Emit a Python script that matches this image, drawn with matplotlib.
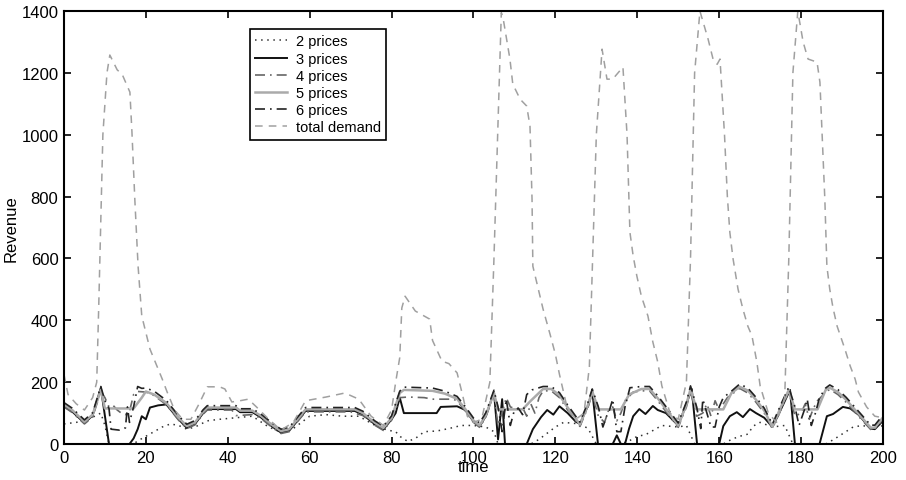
import matplotlib
matplotlib.use("Agg")
import matplotlib.pyplot as plt

# values (time, revenue)
t2 = [0, 3, 6, 9, 10, 11, 17, 18, 20, 22, 24, 26, 28, 30, 32, 35, 38, 42, 46, 50, 53, 56, 60, 64, 68, 72, 76, 79,
      81, 82, 84, 86, 88, 91, 94, 97, 100, 103, 105, 106, 114, 116, 118, 120, 122, 126, 128, 130, 136, 138, 140,
      142, 144, 146, 150, 152, 154, 161, 163, 165, 167, 168.3, 170, 173, 176, 178, 186, 188, 190, 192.7, 195, 198, 200]
rev2 = [65, 70, 80, 100, 60, 0, 0, 10, 25, 40, 55, 65, 60, 48, 55, 75, 80, 85, 90, 55, 38, 50, 90, 95, 90, 90, 60, 45,
        40, 25, 8, 20, 40, 42, 50, 60, 60, 55, 40, 0, 0, 15, 35, 55, 70, 65, 50, 0, 0, 10, 25,
        30, 45, 60, 55, 60, 0, 0, 15, 25, 32, 58, 70, 55, 60, 0, 0, 15, 32, 55, 60, 50, 60]

t3 = [0, 2, 5, 7, 9, 11, 16, 17, 18, 19, 20, 21, 23, 25, 28, 30, 32, 34, 35, 42, 43, 46, 48, 51, 53, 55, 57, 59, 71,
      73, 76, 78, 80, 81, 82, 83, 91, 92, 96, 98, 100, 101.5, 103, 105, 106, 107, 107.7, 113, 114.5, 116.5, 118,
      119.5, 121, 123, 125, 126, 128, 129, 130.4, 134, 135, 136, 137, 138, 139, 140.5, 142, 143.8, 145, 147, 150,
      152, 153.3, 154.6, 160, 161, 162.6, 164.3, 165.8, 167.5, 169, 171, 173, 175, 177.3, 178.5, 184.5, 185.5,
      186.3, 187.8, 190.2, 192, 194, 197, 198, 200]
rev3 = [122, 105, 68, 92, 182, 0, 0, 18, 48, 90, 80, 118, 125, 128, 80, 52, 65, 100, 113, 113, 103, 103, 87, 55, 37,
        43, 75, 107, 107, 95, 63, 47, 80, 100, 150, 100, 100, 120, 122, 110, 73, 57, 90, 168, 15, 145, 0, 0, 48, 87,
        110, 95, 122, 100, 72, 65, 125, 172, 0, 0, 28, 0, 0, 50, 90, 113, 97, 123, 110, 100, 60,
        130, 178, 0, 0, 58, 90, 103, 87, 113, 100, 85, 55, 110, 175, 0, 0, 50,
        90, 97, 120, 115, 95, 50, 48, 75]

t4 = [0, 2, 5, 7, 9, 10, 11, 12, 13, 14, 15, 16, 17, 18, 20, 22, 25, 28, 30, 32, 34, 35, 41, 42, 46, 48, 51, 53, 55,
      57, 59, 70, 71, 73, 76, 78, 80, 82, 84, 88, 90, 95, 96, 98, 100, 101.5, 103, 105, 106, 107, 108, 109, 110,
      112, 113, 114, 115, 116, 117, 119, 121, 123, 126, 128, 129, 130.5, 132, 133, 134, 135, 136, 137, 139, 141,
      143, 145, 147, 150, 152, 153, 154.5, 156, 157, 158, 159, 160, 162, 165, 167, 169, 171, 173, 175, 177, 178.5,
      180, 181, 182, 183, 184, 186, 187, 189, 191, 194, 197, 198, 200]
rev4 = [120, 102, 65, 87, 170, 150, 120, 125, 110, 100, 95, 105, 160, 170, 168, 157, 127, 77, 50, 62, 97, 110, 110,
        92, 95, 84, 52, 34, 40, 72, 104, 104, 100, 92, 60, 44, 77, 150, 152, 150, 145, 145, 140, 107, 70, 54, 87,
        160, 60, 100, 150, 120, 115, 118, 90, 130, 100, 150, 172, 172, 150, 110, 57, 120, 164, 90, 70, 110, 120, 75,
        100, 140, 168, 172, 172, 140, 105, 54, 120, 170, 90, 100, 130, 90, 140, 110, 150, 180, 165, 135, 100, 50,
        110, 170, 90, 100, 130, 80, 115, 140, 167, 177, 160, 135, 90, 47, 47, 80]

t5 = [0, 2, 5, 7, 9, 10, 17, 19, 20, 22, 25, 28, 30, 32, 34, 35, 42, 43, 46, 48, 51, 53, 55, 57, 59, 71, 73, 76, 78,
      80, 82, 83, 90, 93, 96, 98, 100, 101.5, 103, 105, 106, 112, 114, 117, 119, 121, 123, 126, 128, 129, 130.5,
      136, 138, 141, 143, 145, 147, 150, 152, 153, 154.5, 161, 163, 165, 167, 169, 171, 173, 175, 177, 178.5, 184,
      186, 187, 189, 191, 194, 197, 198, 200]
rev5 = [128, 110, 72, 95, 175, 115, 115, 150, 170, 160, 133, 85, 58, 70, 105, 118, 118, 108, 108, 92, 60, 42, 48, 80,
        112, 112, 100, 68, 52, 85, 165, 175, 172, 163, 146, 113, 76, 60, 93, 165, 112, 112, 140, 178, 178, 158, 118,
        63, 128, 170, 112, 112, 160, 178, 178, 148, 113, 60, 128, 178, 112, 112, 165, 185, 173, 143, 108, 56, 118,
        175, 112, 112, 175, 182, 168, 143, 98, 53, 53, 86]

t6 = [0, 2, 5, 7, 9, 10, 11, 11.5, 13.5, 15, 15.5, 16, 17, 18, 19, 20, 22, 25, 28, 30, 32, 34, 35, 42, 43, 46, 48,
      51, 53, 55, 57, 59, 71, 73, 76, 78, 80, 82, 83, 90, 93, 96, 98, 100, 101.5, 103, 105, 106, 107, 108, 109,
      110, 111, 112, 113, 114.3, 117, 119, 121, 123, 126, 128, 129, 130.5, 131.6, 132.5, 133, 134, 135, 136, 137,
      138.2, 141, 143, 145, 147, 150, 152, 153, 154.5, 155.5, 156, 157, 158, 159, 160, 161, 163, 165, 167, 169,
      171, 173, 175, 177, 178.5, 179.5, 180.8, 181.5, 182.5, 183.5, 184.5, 186, 187, 189, 191, 194, 197, 198, 200]
rev6 = [134, 116, 78, 101, 186, 140, 115, 48, 45, 52, 120, 70, 120, 186, 180, 181, 171, 141, 91, 64, 76, 111, 124,
        124, 114, 114, 98, 66, 48, 54, 86, 118, 118, 106, 74, 58, 91, 171, 184, 181, 171, 154, 121, 84, 68, 101,
        174, 120, 40, 145, 60, 110, 115, 95, 160, 175, 186, 186, 166, 126, 71, 136, 178, 120, 55, 90, 100, 145, 40,
        40, 120, 182, 186, 186, 156, 121, 68, 136, 188, 120, 50, 145, 100, 55, 55, 120, 150, 171, 194, 181, 151,
        116, 64, 126, 184, 120, 60, 110, 145, 60, 100, 150, 181, 191, 176, 151, 106, 61, 61, 94]

t_dem = [0, 1, 3, 5, 7, 8, 8.5, 9.5, 10.5, 11.2, 13, 14.2, 16.1, 16.6, 17.3, 18.1, 19, 21, 22.7, 24, 25.2, 27, 29,
         31, 33, 35, 38, 39.3, 41, 43, 45, 47, 50, 53, 56, 59, 64, 68.6, 72, 75, 78, 80, 81, 82, 82.5, 83.3, 85.8,
         89.3, 90, 92.3, 94, 96, 97.4, 98.5, 100, 102, 104, 105, 106.8, 107.2, 108.9, 109.6, 111.4, 113, 113.8,
         114.3, 114.5, 117, 118.7, 120, 121, 123, 125, 127, 128.3, 130, 131.4, 132.6, 134, 136.5, 137.5, 138.2,
         139, 139.9, 141, 142.6, 143.8, 145, 146, 148, 150, 152, 153, 154, 155.3, 157.3, 158.5, 159.5, 160.2,
         161.3, 162, 162.6, 163.4, 164.6, 165.8, 167, 168, 169.2, 170, 172, 174, 176, 177, 178, 179.2, 180.5,
         181.7, 183.9, 184.6, 185.1, 185.8, 186.3, 187, 187.8, 188.8, 190.7, 192, 193.2, 194, 196, 198, 200]
dem = [225, 160, 130, 110, 150, 200, 450, 1000, 1200, 1258, 1210, 1196, 1138, 1009, 792, 575, 414, 307, 252, 210,
       168, 110, 80, 80, 130, 185, 185, 178, 136, 140, 145, 120, 80, 45, 70, 140, 152, 165, 145, 90, 60, 110, 200,
       280, 440, 478, 430, 404, 335, 268, 260, 230, 155, 90, 70, 80, 200, 600, 1395, 1380, 1245, 1164, 1115, 1093,
       1028, 792, 575, 436, 355, 290, 225, 110, 80, 100, 250, 1000, 1277, 1180, 1180, 1219, 1000, 685, 608, 543,
       478, 414, 330, 265, 188, 100, 80, 200, 600, 1200, 1400, 1309, 1245, 1228, 1245, 1000, 800, 685, 598, 501,
       436, 381, 350, 265, 188, 100, 70, 150, 600, 1200, 1400, 1300, 1245, 1235, 1170, 1009, 792, 575, 501, 440,
       381, 307, 252, 210, 168, 120, 90, 85]

plt.rcParams['font.family'] = ['Liberation Sans', 'DejaVu Sans']

fig = plt.figure(figsize=(9.06, 4.81), dpi=100)
ax = fig.add_axes([0.0706, 0.0748, 0.904, 0.9])

ax.plot(t2, rev2, linestyle=(0, (1, 3)), color='#333333', lw=1.1, label='2 prices')
ax.plot(t3, rev3, linestyle='-', color='#111111', lw=1.4, label='3 prices')
ax.plot(t4, rev4, linestyle=(0, (6, 3, 1, 3)), color='#666666', lw=1.2, label='4 prices')
ax.plot(t5, rev5, linestyle='-', color='#aaaaaa', lw=1.8, label='5 prices')
ax.plot(t6, rev6, linestyle=(0, (6, 3, 1, 3)), color='#222222', lw=1.2, label='6 prices')
ax.plot(t_dem, dem, linestyle=(0, (5, 4)), color='#a0a0a0', lw=1.1, label='total demand')

ax.set_xlim(0, 200)
ax.set_ylim(0, 1400)
ax.set_xticks(range(0, 201, 20))
ax.set_yticks(range(0, 1401, 200))
ax.tick_params(direction='in', length=5, width=1.2, top=True, right=True, labelsize=12, pad=4)
for s in ax.spines.values():
    s.set_linewidth(1.5)

ax.set_xlabel('time', fontsize=12, labelpad=-4)
ax.set_ylabel('Revenue', fontsize=12, labelpad=2)

leg = ax.legend(loc='upper left', bbox_to_anchor=(0.227, 0.958), borderaxespad=0, fontsize=10.5,
                handlelength=2.2, labelspacing=0.22, borderpad=0.35, handletextpad=0.6, fancybox=False,
                framealpha=1, edgecolor='black')
leg.get_frame().set_linewidth(1.2)

fig.savefig('out.png', dpi=100)
